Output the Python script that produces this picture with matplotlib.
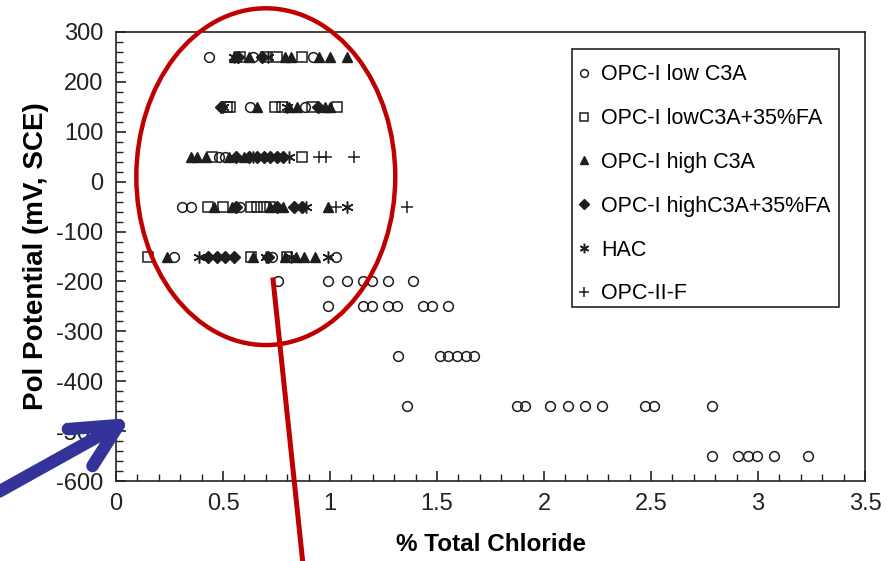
from __future__ import annotations

import matplotlib

matplotlib.use("Agg")
import matplotlib.pyplot as plt
from matplotlib.lines import Line2D
from matplotlib.patches import Ellipse, Rectangle
from matplotlib.ticker import MultipleLocator

plt.rcParams["font.family"] = ["Liberation Sans", "DejaVu Sans"]
plt.rcParams["axes.unicode_minus"] = False

# --- data (x = % total chloride, y = mV SCE) ---
low_c3a_x = [0.435, 0.64, 0.92,
             0.626, 0.883,
             0.48, 0.51,
             0.31, 0.35, 0.58,
             0.27, 0.73, 1.03,
             0.757, 0.99, 1.08, 1.154, 1.196, 1.27, 1.388,
             0.99, 1.154, 1.196, 1.27, 1.313, 1.435, 1.477, 1.551,
             1.318, 1.514, 1.551, 1.593, 1.636, 1.673,
             1.36, 1.874, 1.911, 2.028, 2.112, 2.19, 2.27, 2.472, 2.514, 2.785,
             2.785, 2.907, 2.953, 2.995, 3.075, 3.234]
low_c3a_y = [250, 250, 250,
             150, 150,
             50, 50,
             -50, -50, -50,
             -150, -150, -150,
             -200, -200, -200, -200, -200, -200, -200,
             -250, -250, -250, -250, -250, -250, -250, -250,
             -350, -350, -350, -350, -350, -350,
             -450, -450, -450, -450, -450, -450, -450, -450, -450, -450,
             -550, -550, -550, -550, -550, -550]

low_c3a_fa_x = [0.58, 0.70, 0.75, 0.87,
                0.52, 0.533, 0.743, 0.776, 0.916, 1.033,
                0.45, 0.87,
                0.43, 0.50, 0.63, 0.66, 0.69, 0.72,
                0.15, 0.63, 0.80]
low_c3a_fa_y = [250, 250, 250, 250,
                150, 150, 150, 150, 150, 150,
                50, 50,
                -50, -50, -50, -50, -50, -50,
                -150, -150, -150]

high_c3a_x = [0.55, 0.62, 0.79, 0.82, 0.95, 1.0, 1.08,
              0.659, 0.81, 0.846, 0.977, 1.0,
              0.35, 0.38, 0.42, 0.53, 0.60,
              0.46, 0.54, 0.72, 0.78, 0.99,
              0.24, 0.64, 0.79, 0.84, 0.88, 0.93]
high_c3a_y = [250, 250, 250, 250, 250, 250, 250,
              150, 150, 150, 150, 150,
              50, 50, 50, 50, 50,
              -50, -50, -50, -50, -50,
              -150, -150, -150, -150, -150, -150]

high_c3a_fa_x = [0.57, 0.68,
                 0.49, 0.944,
                 0.56, 0.62, 0.66, 0.69, 0.72, 0.75, 0.78,
                 0.56, 0.75, 0.83, 0.87,
                 0.43, 0.47, 0.51, 0.55, 0.71]
high_c3a_fa_y = [250, 250,
                 150, 150,
                 50, 50, 50, 50, 50, 50, 50,
                 -50, -50, -50, -50,
                 -150, -150, -150, -150, -150]

hac_x = [0.55, 0.71,
         0.50, 0.80,
         0.64, 0.81,
         0.89, 1.08,
         0.39, 0.70, 0.82, 0.99]
hac_y = [250, 250,
         150, 150,
         50, 50,
         -50, -50,
         -150, -150, -150, -150]

opc_ii_f_x = [0.95, 0.98, 1.11,
              1.03, 1.36]
opc_ii_f_y = [50, 50, 50,
              -50, -50]

x_ticks = [0, 0.5, 1, 1.5, 2, 2.5, 3, 3.5]
x_tick_labels = ["0", "0.5", "1", "1.5", "2", "2.5", "3", "3.5"]
y_ticks = [300, 200, 100, 0, -100, -200, -300, -400, -500, -600]

INK = "#1e1e1e"


def plot_series(ax) -> None:
    ax.plot(low_c3a_x, low_c3a_y, "o", ms=7, mfc="none", mec=INK, mew=1.1, label="OPC-I low C3A")
    ax.plot(low_c3a_fa_x, low_c3a_fa_y, "s", ms=6.5, mfc="none", mec=INK, mew=1.1, label="OPC-I lowC3A+35%FA")
    ax.plot(high_c3a_x, high_c3a_y, "^", ms=7.5, mfc=INK, mec=INK, label="OPC-I high C3A")
    ax.plot(high_c3a_fa_x, high_c3a_fa_y, "D", ms=6, mfc=INK, mec=INK, label="OPC-I highC3A+35%FA")
    ax.plot(hac_x, hac_y, marker=(6, 2, 0), ls="none", ms=8.5, mec=INK, mew=1.1, label="HAC")
    ax.plot(opc_ii_f_x, opc_ii_f_y, "+", ms=9, mec=INK, mew=1.1, label="OPC-II-F")


def add_legend(ax) -> None:
    # frame drawn separately so the padding can match the reference box
    ax.add_patch(Rectangle((0.6088, 0.3875), 0.3565, 0.5746, transform=ax.transAxes,
                           fill=True, fc="white", ec="#222222", lw=1.2, zorder=7))
    leg = ax.legend(loc="upper left", bbox_to_anchor=(0.6175, 0.928), borderaxespad=0,
                    fontsize=15.5, frameon=False, handlelength=0.5, handletextpad=0.55,
                    labelspacing=1.06, borderpad=0, markerscale=0.8)
    leg.set_zorder(8)


def add_annotations(ax) -> None:
    # red circle around the low-potential cluster and its pointer line
    red = "#c00000"
    ax.add_patch(Ellipse((0.70, 10), 1.21, 675, fill=False, ec=red, lw=3.2, clip_on=False, zorder=5))
    ax.add_line(Line2D([0.734, 0.874], [-197, -768], color=red, lw=3.6, clip_on=False, zorder=5))
    # blue arrow pointing at -500 mV on the y axis
    blue = "#333399"
    tip = (0.012, -488)
    for end in [(-0.60, -634), (-0.225, -496), (-0.11, -570)]:
        ax.add_line(Line2D([end[0], tip[0]], [end[1], tip[1]], color=blue, lw=9,
                           solid_capstyle="round", clip_on=False, zorder=6))


def main() -> None:
    fig = plt.figure(figsize=(8.93, 5.61), dpi=100)
    ax = fig.add_axes([116 / 893, 1 - 481 / 561, 749 / 893, 449 / 561])

    plot_series(ax)

    ax.set_xlim(0, 3.5)
    ax.set_ylim(-600, 300)
    ax.set_xticks(x_ticks)
    ax.set_xticklabels(x_tick_labels)
    ax.set_yticks(y_ticks)
    ax.xaxis.set_minor_locator(MultipleLocator(0.1))
    ax.yaxis.set_minor_locator(MultipleLocator(20))
    ax.tick_params(which="both", direction="in", top=False, right=False, labelsize=17, colors="#222222")
    ax.tick_params(which="major", length=7, width=1.2)
    ax.tick_params(which="minor", length=5, width=1.0)
    ax.tick_params(axis="x", pad=9)
    ax.tick_params(axis="y", pad=9)
    for spine in ax.spines.values():
        spine.set_linewidth(1.2)
        spine.set_color("#222222")

    ax.set_xlabel("% Total Chloride", fontsize=17.5, fontweight="bold")
    ax.set_ylabel("Pol Potential (mV, SCE)", fontsize=20, fontweight="bold")
    ax.xaxis.set_label_coords(0.5, -0.115)
    ax.yaxis.set_label_coords(-0.09, 0.5)

    add_legend(ax)
    add_annotations(ax)

    fig.savefig("out.png", dpi=100)
    plt.close(fig)


if __name__ == "__main__":
    main()
